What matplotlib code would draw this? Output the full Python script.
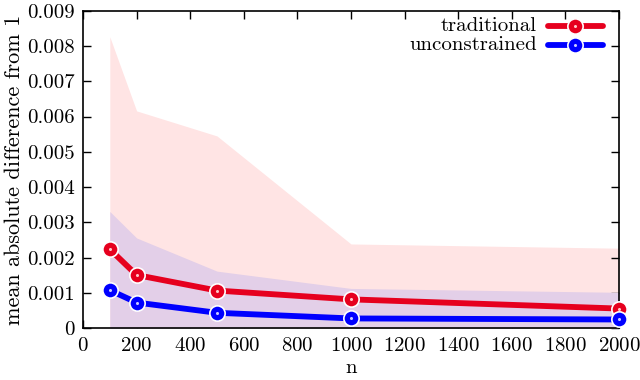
"""
Mean absolute difference from 1 vs sample size n
traditional vs unconstrained, with shaded spread bands
"""

import matplotlib
matplotlib.use('Agg')
import matplotlib.pyplot as plt

plt.rcParams.update({
    'font.family': 'cmr10',
    'mathtext.fontset': 'cm',
    'axes.formatter.use_mathtext': True,
    'font.size': 15,
})

n = [100, 200, 500, 1000, 2000]

trad_mean = [0.00224, 0.00151, 0.00107, 0.00082, 0.00056]
trad_low = [0.0, 0.0, 0.0, 0.0, 0.0]
trad_high = [0.00826, 0.00616, 0.00545, 0.00239, 0.00227]

unc_mean = [0.00108, 0.00073, 0.00044, 0.00028, 0.00025]
unc_low = [0.0, 0.0, 0.0, 0.0, 0.0]
unc_high = [0.00331, 0.00256, 0.00162, 0.00113, 0.00102]

x_ticks = list(range(0, 2001, 200))
y_ticks = [0, 0.001, 0.002, 0.003, 0.004, 0.005, 0.006, 0.007, 0.008, 0.009]
y_labels = ['0', '0.001', '0.002', '0.003', '0.004', '0.005', '0.006', '0.007', '0.008', '0.009']

RED = '#e6001e'
BLUE = '#0000ff'


def create_chart():
    fig = plt.figure(figsize=(6.4, 3.8), dpi=100)
    ax = fig.add_axes([0.1297, 0.136, 0.8375, 0.836])

    ax.fill_between(n, trad_low, trad_high, color='#ffe4e4', lw=0, zorder=1)
    ax.fill_between(n, unc_low, unc_high, color='#e3cfe8', lw=0, zorder=2)

    for y, c in [(trad_mean, RED), (unc_mean, BLUE)]:
        ax.plot(n, y, color=c, lw=4.2, marker='o', ms=11, mfc=c,
                mec='white', mew=1.2, clip_on=False, zorder=5)
        ax.plot(n, y, ls='none', marker='o', ms=1.2, color='#ffc8c8' if c == RED else '#c8c8ff',
                clip_on=False, zorder=6)

    ax.set_xlim(0, 2000)
    ax.set_ylim(0, 0.009)
    ax.set_xticks(x_ticks)
    ax.set_yticks(y_ticks)
    ax.set_yticklabels(y_labels)
    ax.tick_params(direction='in', length=6, width=1, top=True, right=True, pad=6)
    for s in ax.spines.values():
        s.set_linewidth(1.2)

    ax.set_xlabel('n', labelpad=3)
    ax.set_ylabel('mean absolute difference from 1', fontsize=16, labelpad=2)

    # legend drawn by hand so the text is right aligned like gnuplot
    for yy, label, c in [(0.953, 'traditional', RED), (0.893, 'unconstrained', BLUE)]:
        ax.text(0.847, yy, label, transform=ax.transAxes, ha='right', va='center')
        ax.plot([0.8675, 0.970], [yy, yy], transform=ax.transAxes, color=c, lw=4.2,
                solid_capstyle='round', clip_on=False, zorder=7)
        ax.plot([0.9185], [yy], transform=ax.transAxes, marker='o', ms=11, color=c,
                mec='white', mew=1.2, clip_on=False, zorder=8)
        ax.plot([0.9185], [yy], transform=ax.transAxes, marker='o', ms=1.2,
                color='#ffc8c8' if c == RED else '#c8c8ff', clip_on=False, zorder=9)

    fig.savefig('out.png', dpi=100)
    plt.close(fig)


if __name__ == '__main__':
    create_chart()
